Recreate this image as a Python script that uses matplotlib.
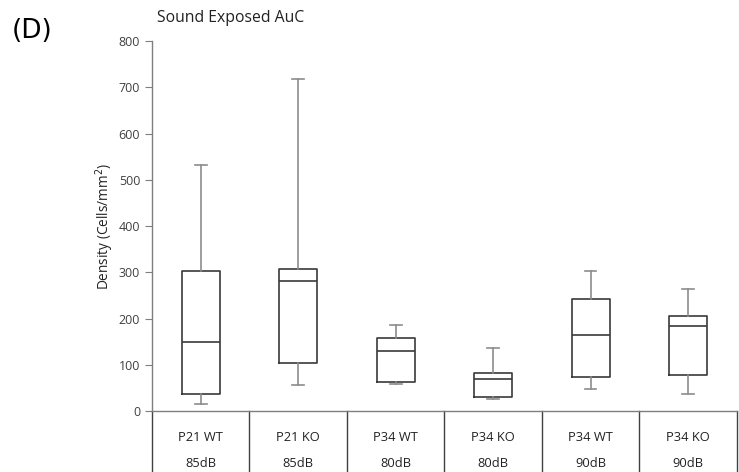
import matplotlib.pyplot as plt
import matplotlib.transforms as mtransforms

plt.rcParams['font.family'] = ['Open Sans', 'DejaVu Sans']

groups = ['P21 WT', 'P21 KO', 'P34 WT', 'P34 KO', 'P34 WT', 'P34 KO']
levels = ['85dB', '85dB', '80dB', '80dB', '90dB', '90dB']
whislo = [15, 57, 58, 26, 47, 37]
q1 = [38, 105, 62, 31, 74, 77]
med = [149, 282, 129, 69, 164, 183]
q3 = [303, 307, 158, 82, 243, 205]
whishi = [532, 719, 187, 137, 303, 265]

stats = []
for i in range(len(groups)):
    stats.append(dict(whislo=whislo[i], q1=q1[i], med=med[i], q3=q3[i],
                      whishi=whishi[i], fliers=[]))

fig = plt.figure(figsize=(7.39, 4.72), dpi=100)
ax = fig.add_axes([0.2057, 0.129, 0.7913, 0.784])

box_c = '#3a3a3a'
wh_c = '#8c8c8c'
ax.bxp(stats, positions=range(1, 7), widths=0.39, showfliers=False,
       boxprops=dict(color=box_c, linewidth=1.2),
       medianprops=dict(color=box_c, linewidth=1.2),
       whiskerprops=dict(color=wh_c, linewidth=1.2),
       capprops=dict(color=wh_c, linewidth=1.2),
       capwidths=0.12)

ax.set_xlim(0.5, 6.5)
ax.set_ylim(0, 800)
ax.set_yticks(range(0, 801, 100))
ax.set_xticks([])
for s in ['top', 'right']:
    ax.spines[s].set_visible(False)
for s in ['left', 'bottom']:
    ax.spines[s].set_color('#7f7f7f')
    ax.spines[s].set_linewidth(1.0)
ax.tick_params(axis='y', direction='out', length=5, color='#7f7f7f',
               labelsize=9, labelcolor='#404040')
ax.set_ylabel('Density (Cells/mm$^2$)', fontsize=9.8, color='#222222', labelpad=2)

# category table under the axis
trans = mtransforms.blended_transform_factory(ax.transData, ax.transAxes)
for b in [0.5 + k for k in range(7)]:
    ax.plot([b, b], [0, -0.17], transform=trans, color='#404040',
            linewidth=1.0, clip_on=False)
for i in range(len(groups)):
    ax.text(i + 1, -0.07, groups[i], transform=trans, ha='center', va='center',
            fontsize=9.3, color='#222222')
    ax.text(i + 1, -0.1405, levels[i], transform=trans, ha='center', va='center',
            fontsize=9.3, color='#222222')

fig.text(0.2125, 0.962, 'Sound Exposed AuC', fontsize=11.3, color='#222222',
         ha='left', va='center')
fig.text(0.016, 0.935, '(D)', fontsize=19, color='black', ha='left', va='center',
         family=['Liberation Sans Narrow', 'DejaVu Sans'])

fig.savefig('out.png', dpi=100)
